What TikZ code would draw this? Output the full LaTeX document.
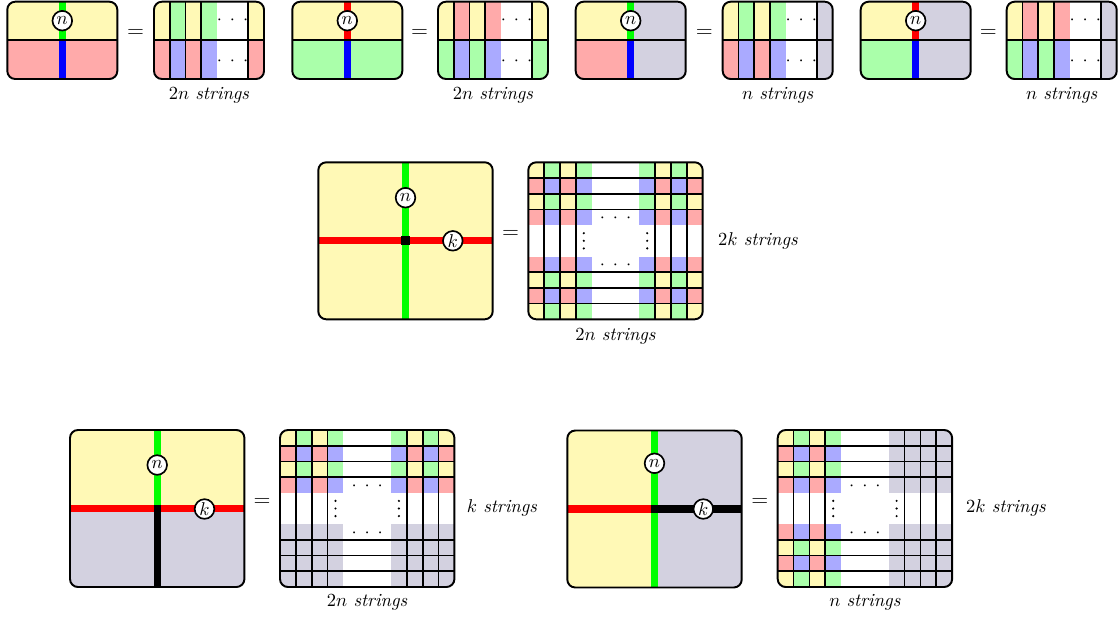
\documentclass[tikz,border=0pt]{standalone}
\definecolor{cy}{RGB}{255,249,182}
\definecolor{cr}{RGB}{255,170,170}
\definecolor{cg}{RGB}{170,255,170}
\definecolor{cb}{RGB}{170,170,255}
\definecolor{cgr}{RGB}{211,209,224}
\newcommand{\BW}{174.4}
\newcommand{\BH}{157}
\newcommand{\SW}{15.855}
\newcommand{\SH}{15.7}
\newcommand{\hdots}{${\cdot}\hspace{4.3pt}{\cdot}\hspace{4.3pt}{\cdot}$}
% small top-left box: #1 x0, #2 TL, #3 BL, #4 TR, #5 BR, #6 strand top, #7 strand bottom
\newcommand{\topbox}[7]{%
 \begin{scope}[shift={(#1,1.7)}]
  \begin{scope}
   \clip[rounded corners=4.3pt] (0,0) rectangle (110,77.3);
   \fill[#2] (0,0) rectangle (55,38.65);
   \fill[#3] (0,38.65) rectangle (55,77.3);
   \fill[#4] (55,0) rectangle (110,38.65);
   \fill[#5] (55,38.65) rectangle (110,77.3);
   \draw[strand,#6] (55,0) -- (55,38.65);
   \draw[strand,#7] (55,38.65) -- (55,77.3);
  \end{scope}
  \draw[thinline] (0,38.65) -- (110,38.65);
  \draw[outline] (0,0) rectangle (110,77.3);
  \node[knot] at (55,19) {$n$};
 \end{scope}}
% small top grid: #1 x0, #2 A, #3 B, #4 C, #5 D, #6 last top, #7 last bottom, #8 label
\newcommand{\topgrid}[8]{%
 \begin{scope}[shift={(#1,1.7)}]
  \begin{scope}
   \clip[rounded corners=4.3pt] (0,0) rectangle (110,77.3);
   \fill[#2] (0,0) rectangle (15.71,38.65);
   \fill[#3] (15.71,0) rectangle (31.43,38.65);
   \fill[#2] (31.43,0) rectangle (47.14,38.65);
   \fill[#3] (47.14,0) rectangle (62.86,38.65);
   \fill[#6] (94.29,0) rectangle (110,38.65);
   \fill[#4] (0,38.65) rectangle (15.71,77.3);
   \fill[#5] (15.71,38.65) rectangle (31.43,77.3);
   \fill[#4] (31.43,38.65) rectangle (47.14,77.3);
   \fill[#5] (47.14,38.65) rectangle (62.86,77.3);
   \fill[#7] (94.29,38.65) rectangle (110,77.3);
  \end{scope}
  \foreach \xx in {15.71,31.43,47.14,94.29} \draw[thinline] (\xx,0) -- (\xx,77.3);
  \draw[thinline] (0,38.65) -- (110,38.65);
  \draw[outline] (0,0) rectangle (110,77.3);
  \node[inner sep=0pt] at (78.57,18.2) {\hdots};
  \node[inner sep=0pt] at (78.57,59.2) {\hdots};
  \node at (55,93.3) {#8};
 \end{scope}}
% big grid: #1 x0, #2 y0, #3 mode (0 all colours, 1 bottom rows grey, 2 right cols grey)
\newcommand{\biggrid}[3]{%
 \begin{scope}[shift={(#1,#2)}]
  \begin{scope}
   \clip[rounded corners=4.3pt] (0,0) rectangle (\BW,\BH);
   \foreach \i in {0,...,10}{\foreach \j in {0,...,9}{%
     \pgfmathtruncatemacro{\ci}{\i<4 ? \i : (\i>6 ? 10-\i : -1)}%
     \pgfmathtruncatemacro{\rj}{\j<4 ? \j : (\j>5 ? 9-\j : -1)}%
     \def\cellcol{white}%
     \ifnum\ci<0 \else\ifnum\rj<0 \else
       \ifodd\rj\relax \ifodd\ci\relax\def\cellcol{cb}\else\def\cellcol{cr}\fi
       \else \ifodd\ci\relax\def\cellcol{cg}\else\def\cellcol{cy}\fi\fi
       \ifnum#3=1 \ifnum\j>5 \def\cellcol{cgr}\fi\fi
       \ifnum#3=2 \ifnum\i>6 \def\cellcol{cgr}\fi\fi
     \fi\fi
     \fill[fill=\cellcol] (\i*\SW,\j*\SH) rectangle ++(\SW,\SH);
   }}
  \end{scope}
  \foreach \k in {1,2,3,8,9,10} \draw[thinline] (\k*\SW,0) -- (\k*\SW,\BH);
  \foreach \k in {1,2,3,7,8,9} \draw[thinline] (0,\k*\SH) -- (\BW,\k*\SH);
  \draw[outline] (0,0) rectangle (\BW,\BH);
  \node[inner sep=0pt] at (5.5*\SW,3.5*\SH+1.5) {\hdots};
  \node[inner sep=0pt] at (5.5*\SW,6.5*\SH+1.5) {\hdots};
  \foreach \dx in {3.5,7.5}
    \foreach \dy in {-7.6,0,7.6}
      \fill[black] (\dx*\SW,5*\SH+\dy) circle[radius=0.65pt];
 \end{scope}}
\begin{document}
\begin{tikzpicture}[x=0.54pt,y=-0.54pt,
  outline/.style={draw=black,line width=1.05pt,rounded corners=4.3pt},
  thinline/.style={draw=black,line width=0.95pt},
  strand/.style={line width=3.9pt},
  knot/.style={circle,draw=black,fill=white,line width=0.9pt,inner sep=0pt,minimum size=10.6pt},
  eqs/.style={font=\large}]
\useasboundingbox (0,0) rectangle (1120,618);
% ---------- top row ----------
\topbox{7.3}{cy}{cr}{cy}{cr}{green}{blue}
\node[eqs] (e1) at (135.7,33) {$=$};
\topgrid{154}{cy}{cg}{cr}{cb}{cy}{cr}{$2n$ \textit{strings}}

\topbox{292.3}{cy}{cg}{cy}{cg}{red}{blue}
\node[eqs] (e2) at (419.5,33) {$=$};
\topgrid{438}{cy}{cr}{cg}{cb}{cy}{cg}{$2n$ \textit{strings}}

\topbox{575.7}{cy}{cr}{cgr}{cgr}{green}{blue}
\node[eqs] (e3) at (704.3,33) {$=$};
\topgrid{722.7}{cy}{cg}{cr}{cb}{cgr}{cgr}{$n$ \textit{strings}}

\topbox{860.7}{cy}{cg}{cgr}{cgr}{red}{blue}
\node[eqs] (e4) at (988.3,33) {$=$};
\topgrid{1006.7}{cy}{cr}{cg}{cb}{cgr}{cgr}{$n$ \textit{strings}}

% ---------- middle ----------
\begin{scope}[shift={(318.3,162.3)}]
  \begin{scope}
    \clip[rounded corners=4.3pt] (0,0) rectangle (\BW,\BH);
    \fill[cy] (0,0) rectangle (\BW,\BH);
    \draw[strand,green] (87.2,0) -- (87.2,\BH);
    \draw[strand,red] (0,78.5) -- (\BW,78.5);
  \end{scope}
  \fill[black] (82.6,73.9) rectangle (91.8,83.1);
  \draw[outline] (0,0) rectangle (\BW,\BH);
  \node[knot] (mn) at (87.2,35.4) {$n$};
  \node[knot] (mk) at (134.5,78.5) {$k$};
\end{scope}
\node[eqs] (e5) at (510.5,234) {$=$};
\biggrid{528.3}{162.3}{0}
\node (m1) at (758,241) {$2k$ \textit{strings}};
\node (m2) at (615.5,336.7) {$2n$ \textit{strings}};

% ---------- bottom left ----------
\begin{scope}[shift={(70,430)}]
  \begin{scope}
    \clip[rounded corners=4.3pt] (0,0) rectangle (\BW,\BH);
    \fill[cy] (0,0) rectangle (\BW,78.5);
    \fill[cgr] (0,78.5) rectangle (\BW,\BH);
    \draw[strand,red] (0,78.5) -- (\BW,78.5);
    \draw[strand,green] (87.2,0) -- (87.2,78.5);
    \draw[strand,black] (87.2,74.8) -- (87.2,\BH);
  \end{scope}
  \draw[outline] (0,0) rectangle (\BW,\BH);
  \node[knot] (bn1) at (87.2,35) {$n$};
  \node[knot] (bk1) at (134.5,79) {$k$};
\end{scope}
\node[eqs] (e6) at (262,502) {$=$};
\biggrid{280}{430}{1}
\node (b1) at (502,508) {$k$ \textit{strings}};
\node (b2) at (367.2,602.7) {$2n$ \textit{strings}};

% ---------- bottom right ----------
\begin{scope}[shift={(567.3,430.5)}]
  \begin{scope}
    \clip[rounded corners=4.3pt] (0,0) rectangle (\BW,\BH);
    \fill[cy] (0,0) rectangle (87.2,\BH);
    \fill[cgr] (87.2,0) rectangle (\BW,\BH);
    \draw[strand,green] (87.2,0) -- (87.2,\BH);
    \draw[strand,red] (0,78.5) -- (87.2,78.5);
    \draw[strand,black] (83.5,78.5) -- (\BW,78.5);
  \end{scope}
  \draw[outline] (0,0) rectangle (\BW,\BH);
  \node[knot] (bn2) at (87.2,32.8) {$n$};
  \node[knot] (bk2) at (136,78.5) {$k$};
\end{scope}
\node[eqs] (e7) at (759.7,502) {$=$};
\biggrid{777.7}{430}{2}
\node (b3) at (1006,508) {$2k$ \textit{strings}};
\node (b4) at (864.9,602.7) {$n$ \textit{strings}};
\end{tikzpicture}
\end{document}
